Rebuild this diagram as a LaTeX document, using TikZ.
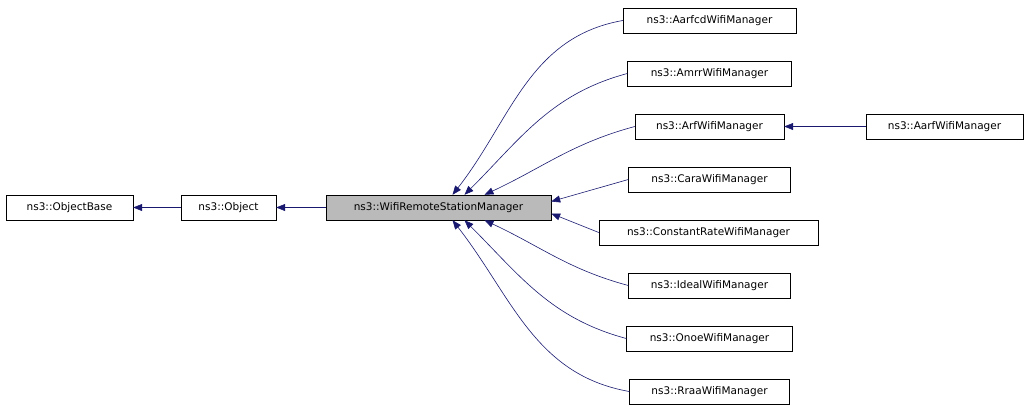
\documentclass[tikz,border=0pt]{standalone}
\usepackage{fontspec}
\setmainfont{DejaVu Sans}
\usetikzlibrary{arrows.meta,positioning}

\begin{document}
\begin{tikzpicture}[x=1pt,y=-1pt]

\tikzset{cls/.style={draw=black,fill=white,minimum height=25pt,inner sep=0pt,font=\fontsize{10.5}{12}\selectfont},
         inh/.style={draw=midnightblue,-{Stealth[length=9pt,width=7pt,inset=0pt]},semithick}}
\definecolor{midnightblue}{HTML}{191970}

\useasboundingbox (0,0) rectangle (1029,413);

\node[cls,minimum width=127pt] (objbase) at (69.5,207.5) {ns3::ObjectBase};
\node[cls,minimum width=95pt] (obj) at (228.5,207.5) {ns3::Object};
\node[cls,minimum width=225pt,fill=black!27] (wrsm) at (438.5,207.5) {ns3::WifiRemoteStationManager};

\node[cls,minimum width=173pt] (aarfcd) at (709.5,20.5) {ns3::AarfcdWifiManager};
\node[cls,minimum width=164pt] (amrr) at (709.5,73.5) {ns3::AmrrWifiManager};
\node[cls,minimum width=149pt] (arf) at (709.5,126.5) {ns3::ArfWifiManager};
\node[cls,minimum width=157pt] (aarf) at (944.5,126.5) {ns3::AarfWifiManager};
\node[cls,minimum width=162pt] (cara) at (709.5,179.5) {ns3::CaraWifiManager};
\node[cls,minimum width=219pt] (constrate) at (708.5,232.5) {ns3::ConstantRateWifiManager};
\node[cls,minimum width=162pt] (ideal) at (709.5,285.5) {ns3::IdealWifiManager};
\node[cls,minimum width=166pt] (onoe) at (709.5,338.5) {ns3::OnoeWifiManager};
\node[cls,minimum width=160pt] (rraa) at (709.5,391.5) {ns3::RraaWifiManager};

% inheritance edges
\draw[inh] (obj) -- (objbase);
\draw[inh] (wrsm) -- (obj);
\draw[inh] (aarf) -- (arf);
\draw[inh] (aarfcd.west) to[out=190,in=52] ([xshift=14pt]wrsm.north);
\draw[inh] (amrr.west) to[out=195,in=45] ([xshift=26pt]wrsm.north);
\draw[inh] (arf.west) to[out=195,in=25] ([xshift=46pt]wrsm.north);
\draw[inh] (cara.west) -- ([yshift=6pt]wrsm.east);
\draw[inh] (constrate.west) -- ([yshift=-6pt]wrsm.east);
\draw[inh] (ideal.west) to[out=165,in=-25] ([xshift=46pt]wrsm.south);
\draw[inh] (onoe.west) to[out=165,in=-45] ([xshift=26pt]wrsm.south);
\draw[inh] (rraa.west) to[out=170,in=-52] ([xshift=14pt]wrsm.south);

\end{tikzpicture}
\end{document}
